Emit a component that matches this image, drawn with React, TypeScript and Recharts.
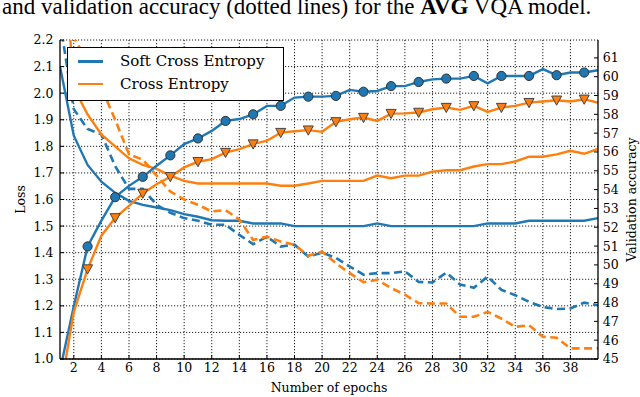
import React from 'react';
import { LineChart, Line, XAxis, YAxis, CartesianGrid, Legend } from 'recharts';

const epochs = [1, 2, 3, 4, 5, 6, 7, 8, 9, 10, 11, 12, 13, 14, 15, 16, 17, 18, 19, 20,
  21, 22, 23, 24, 25, 26, 27, 28, 29, 30, 31, 32, 33, 34, 35, 36, 37, 38, 39, 40];

// loss curves (left axis)
const softTrainLoss = [2.10, 1.84, 1.73, 1.667, 1.625, 1.595, 1.58, 1.57, 1.56, 1.545,
  1.535, 1.522, 1.52, 1.52, 1.51, 1.51, 1.51, 1.50, 1.50, 1.50,
  1.50, 1.50, 1.50, 1.51, 1.50, 1.50, 1.50, 1.50, 1.50, 1.50,
  1.50, 1.51, 1.51, 1.51, 1.52, 1.52, 1.52, 1.52, 1.52, 1.53];
const softValLoss = [2.27, 1.94, 1.865, 1.845, 1.725, 1.64, 1.64, 1.58, 1.55, 1.53,
  1.52, 1.505, 1.505, 1.467, 1.432, 1.46, 1.423, 1.43, 1.385, 1.40,
  1.38, 1.348, 1.317, 1.323, 1.323, 1.33, 1.29, 1.288, 1.325, 1.28,
  1.268, 1.31, 1.26, 1.24, 1.215, 1.196, 1.188, 1.19, 1.212, 1.202];
const ceTrainLoss = [2.75, 2.02, 1.92, 1.845, 1.80, 1.755, 1.73, 1.715, 1.69, 1.67,
  1.66, 1.66, 1.66, 1.66, 1.66, 1.66, 1.652, 1.652, 1.66, 1.67,
  1.67, 1.67, 1.67, 1.69, 1.68, 1.69, 1.69, 1.705, 1.71, 1.71,
  1.724, 1.733, 1.733, 1.743, 1.761, 1.761, 1.77, 1.783, 1.772, 1.79];
const ceValLoss = [2.5, 2.21, 2.12, 2.02, 1.90, 1.77, 1.75, 1.69, 1.63, 1.60,
  1.58, 1.555, 1.56, 1.525, 1.448, 1.46, 1.442, 1.43, 1.388, 1.404,
  1.36, 1.323, 1.289, 1.298, 1.267, 1.242, 1.21, 1.209, 1.209, 1.159,
  1.159, 1.177, 1.152, 1.121, 1.127, 1.084, 1.08, 1.04, 1.04, 1.04];

// validation accuracy (right axis)
const softAcc = [44.4, 47.8, 50.98, 52.35, 53.6, 54.2, 54.68, 55.27, 55.82, 56.42,
  56.72, 57.12, 57.65, 57.75, 58.0, 58.45, 58.45, 58.89, 58.94, 58.94,
  58.98, 59.3, 59.2, 59.24, 59.5, 59.5, 59.72, 59.86, 59.9, 59.9,
  60.04, 59.65, 60.04, 60.04, 60.04, 60.4, 60.08, 60.22, 60.22, 60.34];
const ceAcc = [43.2, 47.5, 49.78, 51.55, 52.5, 53.14, 53.8, 54.29, 54.68, 55.18,
  55.48, 55.62, 55.97, 56.15, 56.42, 56.6, 57.03, 57.1, 57.16, 57.07,
  57.6, 57.74, 57.83, 57.65, 58.04, 58.05, 58.1, 58.27, 58.36, 58.24,
  58.45, 58.13, 58.36, 58.45, 58.62, 58.68, 58.75, 58.68, 58.8, 58.62];

const epochTicks = [2, 4, 6, 8, 10, 12, 14, 16, 18, 20, 22, 24, 26, 28, 30, 32, 34, 36, 38];
const lossTicks = [1.0, 1.1, 1.2, 1.3, 1.4, 1.5, 1.6, 1.7, 1.8, 1.9, 2.0, 2.1, 2.2];
const accTicks = [45, 46, 47, 48, 49, 50, 51, 52, 53, 54, 55, 56, 57, 58, 59, 60, 61];

const legendItems = [
  { name: 'Soft Cross Entropy', color: '#1f77b4' },
  { name: 'Cross Entropy', color: '#ff7f0e' },
];

const BLUE = '#1f77b4';
const ORANGE = '#ff7f0e';
const FONT = '"DejaVu Serif", serif';

const data = epochs.map((e, i) => ({
  epoch: e,
  softTrain: softTrainLoss[i],
  softVal: softValLoss[i],
  ceTrain: ceTrainLoss[i],
  ceVal: ceValLoss[i],
  softAcc: softAcc[i],
  ceAcc: ceAcc[i],
}));

// markers only on every other epoch, from epoch 3
const hasMarker = (epoch: number) => epoch >= 3 && epoch % 2 === 1;

const CircleDot = (props: any) => {
  const { cx, cy, payload, index } = props;
  if (!hasMarker(payload.epoch)) return <g key={`c-${index}`} />;
  return <circle key={`c-${index}`} cx={cx} cy={cy} r={4.6} fill={BLUE} stroke="#333" strokeWidth={1} />;
};

const TriangleDot = (props: any) => {
  const { cx, cy, payload, index } = props;
  if (!hasMarker(payload.epoch)) return <g key={`t-${index}`} />;
  const d = `M${cx - 5},${cy - 4.2} L${cx + 5},${cy - 4.2} L${cx},${cy + 5} Z`;
  return <path key={`t-${index}`} d={d} fill={ORANGE} stroke="#444" strokeWidth={1} />;
};

const renderLegend = () => (
  <div
    style={{
      border: '1px solid #000',
      background: '#fff',
      padding: '2px 6px 5px 10px',
      fontFamily: FONT,
      fontSize: 15,
      lineHeight: '22.6px',
      boxSizing: 'border-box',
      width: 217,
    }}
  >
    {legendItems.map((it) => (
      <div key={it.name} style={{ display: 'flex', alignItems: 'center', whiteSpace: 'nowrap' }}>
        <span style={{ display: 'inline-block', width: 25, height: 2.5, background: it.color, marginRight: 17 }} />
        {it.name}
      </div>
    ))}
  </div>
);

const tickStyle = { fontFamily: FONT, fontSize: 12.5, fill: '#000' };

export default function App() {
  return (
    <div style={{ position: 'absolute', left: 0, top: 0, width: 640, height: 397, overflow: 'hidden', background: '#fff' }}>
      <svg width={640} height={22} style={{ position: 'absolute', left: 0, top: 0 }}>
        <text x={2} y={14} fontFamily='"Liberation Serif", serif' fontSize={23} fill="#000">
          and validation accuracy (dotted lines) for the <tspan fontWeight="bold">AVG</tspan> VQA model.
        </text>
      </svg>
      <LineChart
        width={640}
        height={397}
        data={data}
        margin={{ top: 40, right: 0, bottom: 0, left: 0 }}
        style={{ position: 'absolute', left: 0, top: 0 }}
      >
        <CartesianGrid
          yAxisId="loss"
          stroke="#222"
          strokeDasharray="1.2 1.8"
          strokeWidth={1}
          horizontalValues={lossTicks}
          verticalValues={epochTicks}
        />
        <XAxis
          dataKey="epoch"
          type="number"
          domain={[1, 40]}
          ticks={epochTicks}
          interval={0}
          allowDataOverflow
          height={38}
          tickSize={-4}
          tickMargin={8}
          stroke="#000"
          axisLine={{ stroke: '#000', strokeWidth: 1.3 }}
          tickLine={{ stroke: '#000' }}
          tick={tickStyle}
          label={{
            content: (p: any) => (
              <text x={p.viewBox.x + p.viewBox.width / 2} y={p.viewBox.y + 33} textAnchor="middle" fontFamily={FONT} fontSize={12.5} fill="#000">
                Number of epochs
              </text>
            ),
          }}
        />
        <XAxis
          xAxisId="top"
          orientation="top"
          dataKey="epoch"
          type="number"
          domain={[1, 40]}
          ticks={epochTicks}
          interval={0}
          height={0}
          tickSize={-4}
          tick={false}
          axisLine={{ stroke: '#000', strokeWidth: 1.3 }}
          tickLine={{ stroke: '#000' }}
        />
        <YAxis
          yAxisId="loss"
          orientation="left"
          type="number"
          domain={[1.0, 2.2]}
          ticks={lossTicks}
          interval={0}
          allowDataOverflow
          width={60}
          tickSize={-4}
          tickMargin={10.5}
          axisLine={{ stroke: '#000', strokeWidth: 1.3 }}
          tickLine={{ stroke: '#000' }}
          tick={tickStyle}
          tickFormatter={(v: number) => v.toFixed(1)}
          label={{
            content: (p: any) => {
              const cx = 20;
              const cy = p.viewBox.y + p.viewBox.height / 2;
              return (
                <text x={cx} y={cy} transform={`rotate(-90 ${cx} ${cy})`} textAnchor="middle" dominantBaseline="central" fontFamily={FONT} fontSize={12.5} fill="#000">
                  Loss
                </text>
              );
            },
          }}
        />
        <YAxis
          yAxisId="acc"
          orientation="right"
          type="number"
          domain={[45, 61.95]}
          ticks={accTicks}
          interval={0}
          allowDataOverflow
          width={42}
          tickSize={-4}
          tickMargin={8.7}
          axisLine={{ stroke: '#000', strokeWidth: 1.3 }}
          tickLine={{ stroke: '#000' }}
          tick={tickStyle}
          label={{
            content: (p: any) => {
              const cx = 631;
              const cy = p.viewBox.y + p.viewBox.height / 2;
              return (
                <text x={cx} y={cy} transform={`rotate(-90 ${cx} ${cy})`} textAnchor="middle" dominantBaseline="central" fontFamily={FONT} fontSize={12.5} fill="#000">
                  Validation accuracy
                </text>
              );
            },
          }}
        />
        <Legend layout="vertical" align="center" verticalAlign="middle" content={renderLegend} wrapperStyle={{ left: 67, top: 47, width: 217, height: 'auto' }} />

        <Line yAxisId="loss" dataKey="softTrain" stroke={BLUE} strokeWidth={2.4} dot={false} isAnimationActive={false} legendType="none" />
        <Line yAxisId="loss" dataKey="softVal" stroke={BLUE} strokeWidth={2.6} strokeDasharray="8 4.5" dot={false} isAnimationActive={false} legendType="none" />
        <Line yAxisId="loss" dataKey="ceTrain" stroke={ORANGE} strokeWidth={2.4} dot={false} isAnimationActive={false} legendType="none" />
        <Line yAxisId="loss" dataKey="ceVal" stroke={ORANGE} strokeWidth={2.6} strokeDasharray="8 4.5" dot={false} isAnimationActive={false} legendType="none" />
        <Line yAxisId="acc" dataKey="softAcc" stroke={BLUE} strokeWidth={2.4} dot={CircleDot} activeDot={false} isAnimationActive={false} legendType="none" />
        <Line yAxisId="acc" dataKey="ceAcc" stroke={ORANGE} strokeWidth={2.4} dot={TriangleDot} activeDot={false} isAnimationActive={false} legendType="none" />
      </LineChart>
    </div>
  );
}
